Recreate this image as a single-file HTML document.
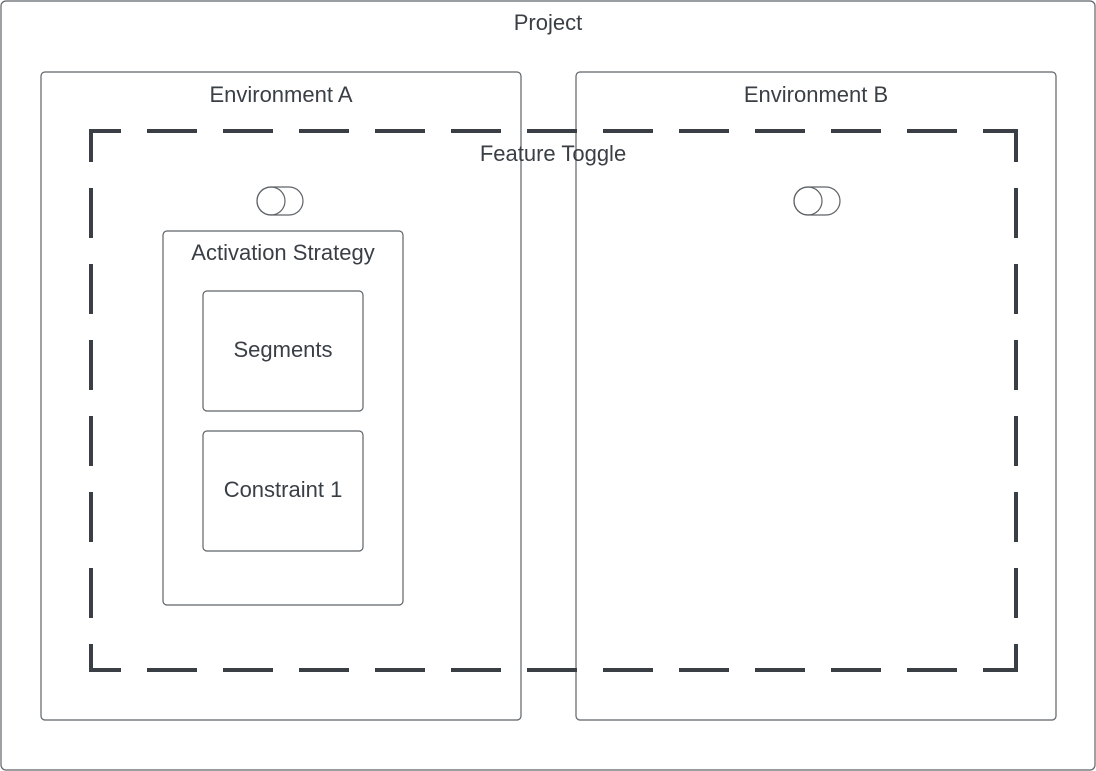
<!DOCTYPE html>
<html><head><style>
html,body{margin:0;padding:0;background:#fff;}
svg{display:block;}
text{font-family:"Liberation Sans",sans-serif;font-size:22px;fill:#3a3f46;}
</style></head><body>
<svg width="1096" height="771" viewBox="0 0 1096 771">
<g fill="none" stroke="#5f6368" stroke-width="1.2">
<rect x="1" y="1" width="1094" height="769" rx="5"/>
<rect x="41" y="72" width="480" height="648" rx="4"/>
<rect x="576" y="72" width="480" height="648" rx="4"/>
<rect x="163" y="231" width="240" height="374" rx="4"/>
<rect x="203" y="291" width="160" height="120" rx="4"/>
<rect x="203" y="431" width="160" height="120" rx="4"/>
<rect x="257" y="187" width="46" height="28" rx="14"/>
<circle cx="271" cy="201" r="14"/>
<rect x="794" y="187" width="46" height="28" rx="14"/>
<circle cx="808" cy="201" r="14"/>
</g>
<g fill="none" stroke="#3a3f46" stroke-width="4">
<line x1="89" y1="131" x2="1018" y2="131" stroke-dasharray="50 26" stroke-dashoffset="18"/>
<line x1="89" y1="670" x2="1018" y2="670" stroke-dasharray="50 26" stroke-dashoffset="18"/>
<line x1="91" y1="129" x2="91" y2="672" stroke-dasharray="50 26" stroke-dashoffset="17"/>
<line x1="1016" y1="129" x2="1016" y2="672" stroke-dasharray="50 26" stroke-dashoffset="17"/>
</g>
<text x="548" y="30" text-anchor="middle">Project</text>
<text x="281" y="102" text-anchor="middle">Environment A</text>
<text x="816" y="102" text-anchor="middle">Environment B</text>
<text x="553" y="161" text-anchor="middle">Feature Toggle</text>
<text x="283" y="260" text-anchor="middle">Activation Strategy</text>
<text x="283" y="357" text-anchor="middle">Segments</text>
<text x="283" y="497" text-anchor="middle">Constraint 1</text>
</svg>
</body></html>
